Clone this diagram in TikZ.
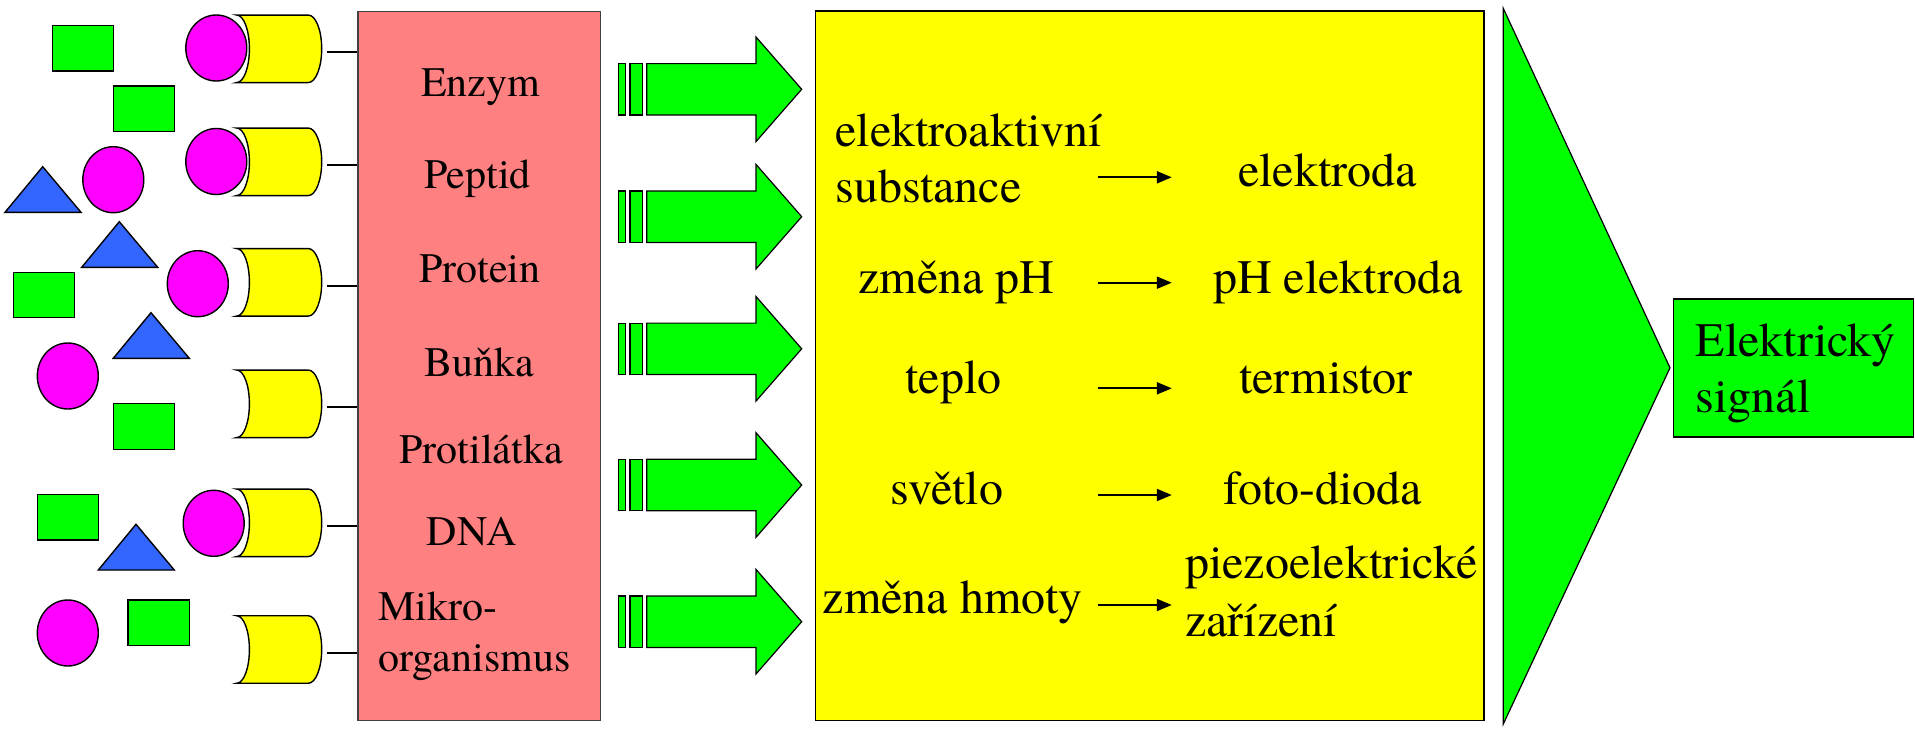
\documentclass[tikz,border=0pt]{standalone}
\usepackage{fontspec}
\setmainfont{texgyretermes}[Extension=.otf, UprightFont=*-regular, BoldFont=*-bold, ItalicFont=*-italic, BoldItalicFont=*-bolditalic]
\usetikzlibrary{arrows.meta}
\definecolor{bioGreen}{HTML}{00FF00}
\definecolor{bioMagenta}{HTML}{FF00FF}
\definecolor{bioBlue}{HTML}{3366FF}
\definecolor{bioYellow}{HTML}{FFFF00}
\definecolor{bioRed}{HTML}{FF8080}
\tikzset{
  outl/.style={draw=black, line width=1.4pt},
  sqbox/.style={outl, fill=bioGreen},
  blob/.style={outl, fill=bioMagenta},
  tri/.style={outl, fill=bioBlue},
  canbody/.style={outl, fill=bioYellow},
  lab/.style={font=\fontsize{42}{50}\selectfont, inner sep=0pt, anchor=base},
  big/.style={font=\fontsize{48}{56}\selectfont, inner sep=0pt, anchor=base},
  link/.style={draw=black, line width=2pt},
  flow/.style={draw=black, line width=2pt, -{Triangle[length=15pt,width=12pt]}},
  panel/.style={inner sep=0pt, line width=1.5pt},
  % receptor "can": concave left end, rounded right end; origin at left middle
  can/.pic={
    \path[canbody] (0,-33.75) -- (71.6,-33.75)
      .. controls (79.0,-33.75) and (85,-18.64) .. (85,0)
      .. controls (85,18.64) and (79.0,33.75) .. (71.6,33.75)
      -- (0,33.75)
      .. controls (7.01,33.75) and (12.7,18.64) .. (12.7,0)
      .. controls (12.7,-18.64) and (7.01,-33.75) .. (0,-33.75) -- cycle;
    \coordinate (-tail) at (90,3.5);
  },
  % broad green arrow with two leading bars; origin at left middle
  fatarrow/.pic={
    \path[sqbox, line width=1.2pt] (0,-25.7) rectangle (6.6,25.7);
    \path[sqbox, line width=1.2pt] (11.3,-25.7) rectangle (23.6,25.7);
    \path[sqbox, line width=1.2pt] (28,-25.7) -- (137.3,-25.7) -- (137.3,-52.3)
      -- (183,0) -- (137.3,52.3) -- (137.3,25.7) -- (28,25.7) -- cycle;
  },
}
\begin{document}
\begin{tikzpicture}[x=1pt, y=-1pt, line join=miter]
\useasboundingbox (0,0) rectangle (1915,729);

% analytes floating in the sample
\path[sqbox] (52.3,25.7) rectangle (113.7,71);
\path[sqbox] (113.3,86) rectangle (174.3,131.7);
\path[sqbox] (13.3,272.3) rectangle (74.3,317.7);
\path[sqbox] (113.3,403.7) rectangle (174.3,449.3);
\path[sqbox] (37.3,494.7) rectangle (98.7,540);
\path[sqbox] (128,600) rectangle (189.3,645.7);

\path[blob] (216.3,48) ellipse [x radius=30.5, y radius=33];
\path[blob] (216.3,161.5) ellipse [x radius=30.5, y radius=33];
\path[blob] (113.3,179.7) ellipse [x radius=30.5, y radius=33];
\path[blob] (197.8,283.7) ellipse [x radius=30.5, y radius=33];
\path[blob] (67.8,376) ellipse [x radius=30.5, y radius=33];
\path[blob] (213.7,523.3) ellipse [x radius=30.5, y radius=33];
\path[blob] (67.8,633) ellipse [x radius=30.5, y radius=33];

\path[tri] (42.7,166.7) -- (81,212.3) -- (5,212.3) -- cycle;
\path[tri] (119.3,221.7) -- (157.7,267.3) -- (81.7,267.3) -- cycle;
\path[tri] (151,312.7) -- (189.3,358.3) -- (113.3,358.3) -- cycle;
\path[tri] (136,524.3) -- (174.3,570) -- (98.3,570) -- cycle;

% biorecognition layer
\node[panel, draw=black!75, fill=bioRed, minimum width=242.5pt, minimum height=709pt]
  (hosts) at (479.25,365.75) {};
\node[lab] (enzym) at (480.7,96) {Enzym};
\node[lab] (peptid) at (477.5,188) {Peptid};
\node[lab] (protein) at (480,282) {Protein};
\node[lab] (bunka) at (479,376) {Buňka};
\node[lab] (protilatka) at (481,463) {Protilátka};
\node[lab] (dna) at (471.7,545.7) {DNA};
\node[lab, anchor=base west] (mikro) at (378,620.7) {Mikro-};
\node[lab, anchor=base west] (organismus) at (378,671.7) {organismus};

% receptors bound to the layer
\foreach \n/\cy in {1/48.8, 2/161.8, 3/282.3, 4/403.8, 5/522.8, 6/649.5} {
  \pic (c\n) at (236.7,\cy) {can};
  \draw[link] (c\n-tail) -- (c\n-tail -| hosts.west);
}

% signal flow towards the transducers
\foreach \cy in {89.3, 216.7, 348.8, 485, 621.7}
  \pic at (618.7,\cy) {fatarrow};

% transducer panel
\node[panel, draw=black, fill=bioYellow, minimum width=668.5pt, minimum height=709.5pt]
  (transducers) at (1149.75,365.75) {};
\node[big, anchor=base west] (elakt) at (835.3,146.7) {elektroaktivní};
\node[big, anchor=base west] (subst) at (835.3,202) {substance};
\node[big] (elektroda) at (1327.6,186.7) {elektroda};
\node[big] (zmenaph) at (956.5,293.3) {změna pH};
\node[big] (phelektroda) at (1337.9,293.3) {pH elektroda};
\node[big] (teplo) at (953.4,393.3) {teplo};
\node[big] (termistor) at (1326,393.3) {termistor};
\node[big] (svetlo) at (946.7,504.3) {světlo};
\node[big] (fotodioda) at (1323,504.3) {foto-dioda};
\node[big] (hmota) at (952.8,613.3) {změna hmoty};
\node[big, anchor=base west] (piezo) at (1184.9,578.3) {piezoelektrické};
\node[big, anchor=base west] (zarizeni) at (1184.9,636) {zařízení};

\foreach \n/\y in {1/177.3, 2/282.7, 3/388.3, 4/495, 5/605} {
  \coordinate (f\n s) at (1097.7,\y);
  \coordinate (f\n e) at (1171.8,\y);
  \draw[flow] (f\n s) -- (f\n e);
}

% amplification wedge and output
\path[outl, line width=1.2pt, fill=bioGreen] (1503.3,8.4) -- (1670,367.8) -- (1503.3,724) -- cycle;
\node[panel, draw=black, fill=bioGreen, minimum width=240pt, minimum height=138pt]
  (signal) at (1793.5,368) {};
\node[big, anchor=base west] (elektricky) at (1695.7,356) {Elektrický};
\node[big, anchor=base west] (signal2) at (1695.7,412.6) {signál};
\end{tikzpicture}
\end{document}
